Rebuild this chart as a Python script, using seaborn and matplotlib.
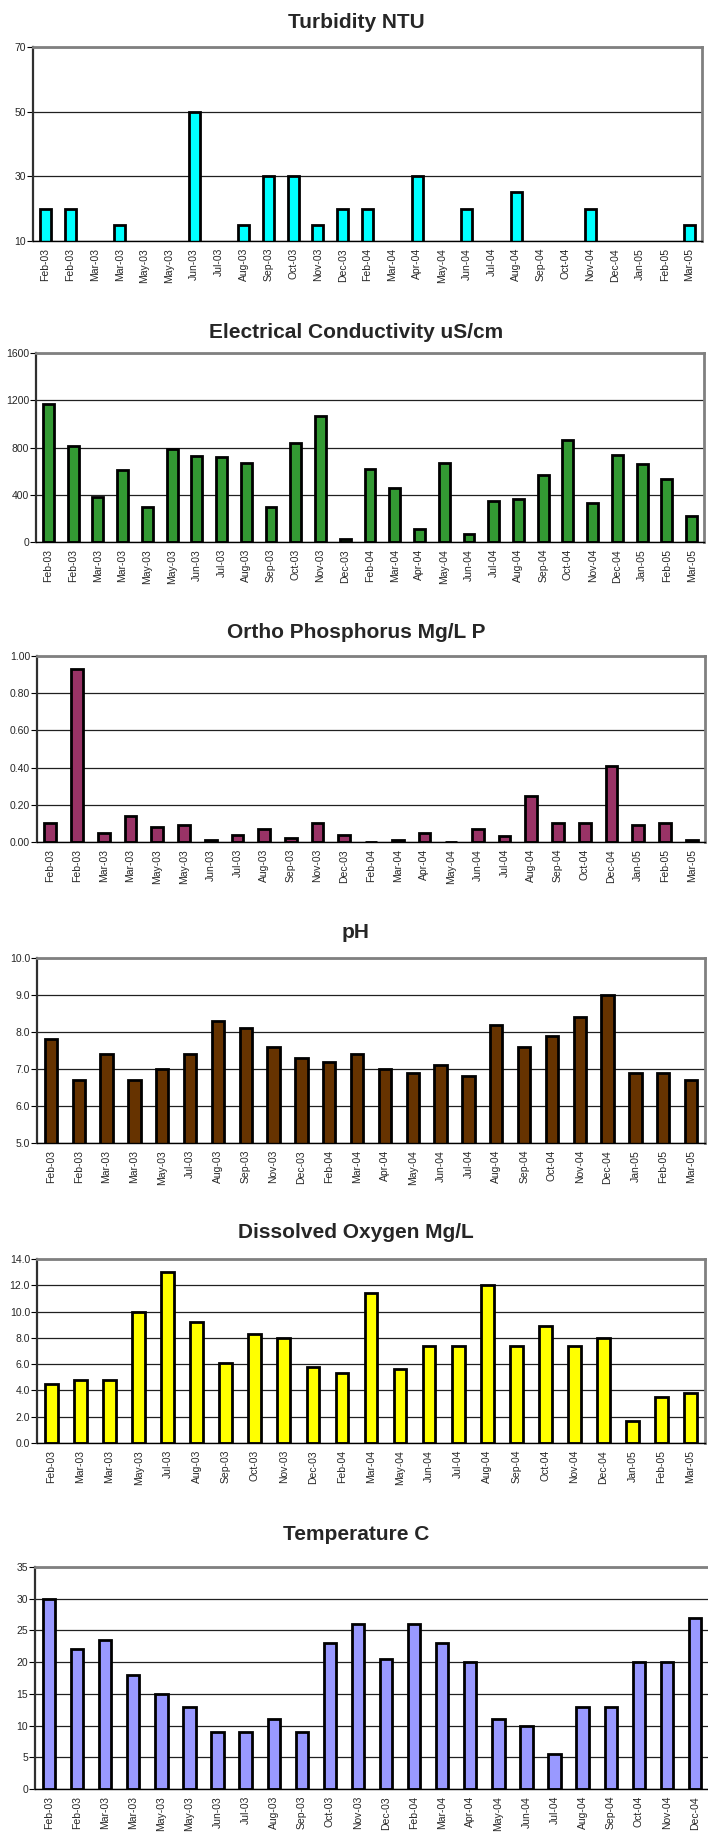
import numpy as np
import pandas as pd
import matplotlib
matplotlib.use('Agg')
import matplotlib.pyplot as plt
import seaborn as sns
from matplotlib.ticker import FixedLocator, FormatStrFormatter

# ---- data ----
turb_labels = ['Feb-03', 'Feb-03', 'Mar-03', 'Mar-03', 'May-03', 'May-03', 'Jun-03', 'Jul-03',
               'Aug-03', 'Sep-03', 'Oct-03', 'Nov-03', 'Dec-03', 'Feb-04', 'Mar-04', 'Apr-04',
               'May-04', 'Jun-04', 'Jul-04', 'Aug-04', 'Sep-04', 'Oct-04', 'Nov-04', 'Dec-04',
               'Jan-05', 'Feb-05', 'Mar-05']
turb_values = [20, 20, np.nan, 15, np.nan, np.nan, 50, np.nan, 15, 30, 30, 15, 20, 20, np.nan, 30,
               np.nan, 20, np.nan, 25, np.nan, np.nan, 20, np.nan, np.nan, np.nan, 15]

ec_labels = ['Feb-03', 'Feb-03', 'Mar-03', 'Mar-03', 'May-03', 'May-03', 'Jun-03', 'Jul-03',
             'Aug-03', 'Sep-03', 'Oct-03', 'Nov-03', 'Dec-03', 'Feb-04', 'Mar-04', 'Apr-04',
             'May-04', 'Jun-04', 'Jul-04', 'Aug-04', 'Sep-04', 'Oct-04', 'Nov-04', 'Dec-04',
             'Jan-05', 'Feb-05', 'Mar-05']
ec_values = [1170, 810, 385, 610, 300, 790, 730, 720, 670, 300, 840, 1070, 25, 615, 460, 110,
             670, 70, 350, 360, 570, 865, 330, 740, 660, 530, 220]

op_labels = ['Feb-03', 'Feb-03', 'Mar-03', 'Mar-03', 'May-03', 'May-03', 'Jun-03', 'Jul-03',
             'Aug-03', 'Sep-03', 'Nov-03', 'Dec-03', 'Feb-04', 'Mar-04', 'Apr-04', 'May-04',
             'Jun-04', 'Jul-04', 'Aug-04', 'Sep-04', 'Oct-04', 'Dec-04', 'Jan-05', 'Feb-05', 'Mar-05']
op_values = [0.10, 0.93, 0.05, 0.14, 0.08, 0.09, 0.01, 0.04, 0.07, 0.02, 0.10, 0.04, 0.0, 0.01,
             0.05, 0.0, 0.07, 0.03, 0.25, 0.10, 0.10, 0.41, 0.09, 0.10, 0.01]

ph_labels = ['Feb-03', 'Feb-03', 'Mar-03', 'Mar-03', 'May-03', 'Jul-03', 'Aug-03', 'Sep-03',
             'Nov-03', 'Dec-03', 'Feb-04', 'Mar-04', 'Apr-04', 'May-04', 'Jun-04', 'Jul-04',
             'Aug-04', 'Sep-04', 'Oct-04', 'Nov-04', 'Dec-04', 'Jan-05', 'Feb-05', 'Mar-05']
ph_values = [7.8, 6.7, 7.4, 6.7, 7.0, 7.4, 8.3, 8.1, 7.6, 7.3, 7.2, 7.4, 7.0, 6.9, 7.1, 6.8,
             8.2, 7.6, 7.9, 8.4, 9.0, 6.9, 6.9, 6.7]

do_labels = ['Feb-03', 'Mar-03', 'Mar-03', 'May-03', 'Jul-03', 'Aug-03', 'Sep-03', 'Oct-03',
             'Nov-03', 'Dec-03', 'Feb-04', 'Mar-04', 'May-04', 'Jun-04', 'Jul-04', 'Aug-04',
             'Sep-04', 'Oct-04', 'Nov-04', 'Dec-04', 'Jan-05', 'Feb-05', 'Mar-05']
do_values = [4.5, 4.8, 4.8, 10.0, 13.0, 9.2, 6.1, 8.3, 8.0, 5.8, 5.3, 11.4, 5.6, 7.4, 7.4, 12.0,
             7.4, 8.9, 7.4, 8.0, 1.7, 3.5, 3.8]

temp_labels = ['Feb-03', 'Feb-03', 'Mar-03', 'Mar-03', 'May-03', 'May-03', 'Jun-03', 'Jul-03',
               'Aug-03', 'Sep-03', 'Oct-03', 'Nov-03', 'Dec-03', 'Feb-04', 'Mar-04', 'Apr-04',
               'May-04', 'Jun-04', 'Jul-04', 'Aug-04', 'Sep-04', 'Oct-04', 'Nov-04', 'Dec-04']
temp_values = [30, 22, 23.5, 18, 15, 13, 9, 9, 11, 9, 23, 26, 20.5, 26, 23, 20, 11, 10, 5.5,
               13, 13, 20, 20, 27]

sns.set_style('white')
plt.rcParams['font.family'] = ['Liberation Sans', 'DejaVu Sans']

W, H = 708, 1832
fig = plt.figure(figsize=(W / 100, H / 100), dpi=100)

# (title, labels, values, color, yticks, fmt, box px: left, right, top, bottom, title y)
panels = [
    ('Turbidity NTU', turb_labels, turb_values, '#00FFFF', [10, 30, 50, 70], '%d',
     (33, 702, 47, 241), 23),
    ('Electrical Conductivity uS/cm', ec_labels, ec_values, '#339933', [0, 400, 800, 1200, 1600], '%d',
     (36, 704, 353, 542), 332),
    ('Ortho Phosphorus Mg/L P', op_labels, op_values, '#993366', [0, 0.2, 0.4, 0.6, 0.8, 1.0], '%.2f',
     (37, 705, 656, 842), 632),
    ('pH', ph_labels, ph_values, '#663300', [5, 6, 7, 8, 9, 10], '%.1f',
     (37, 705, 958, 1143), 933),
    ('Dissolved Oxygen Mg/L', do_labels, do_values, '#FFFF00', [0, 2, 4, 6, 8, 10, 12, 14], '%.1f',
     (37, 705, 1259, 1443), 1233),
    ('Temperature C', temp_labels, temp_values, '#9999FF', [0, 5, 10, 15, 20, 25, 30, 35], '%d',
     (35, 709, 1567, 1789), 1535),
]

for title, labels, values, color, yticks, fmt, box, ty in panels:
    l, r, t, b = box
    ax = fig.add_axes([l / W, 1 - b / H, (r - l) / W, (b - t) / H])
    n = len(labels)
    df = pd.DataFrame({'pos': list(range(n)), 'value': values})
    sns.barplot(data=df, x='pos', y='value', order=list(range(n)), color=color,
                width=0.44, edgecolor='black', linewidth=2, saturation=1, ax=ax)
    ax.set_xlim(-0.5, n - 0.5)
    ax.set_ylim(yticks[0], yticks[-1])
    ax.set_xlabel('')
    ax.set_ylabel('')

    # gridlines at major y ticks
    ax.set_yticks(yticks)
    ax.yaxis.set_major_formatter(FormatStrFormatter(fmt))
    ax.grid(axis='y', color='#202020', linewidth=0.9)
    ax.set_axisbelow(True)

    ax.set_xticks(range(n))
    ax.set_xticklabels(labels, rotation=90)
    ax.xaxis.set_minor_locator(FixedLocator(np.arange(-0.5, n, 1.0)))
    ax.tick_params(axis='x', which='major', length=0, pad=5, labelsize=7.5)
    ax.tick_params(axis='x', which='minor', length=4, width=0.8, color='black', direction='out')
    ax.tick_params(axis='y', which='major', length=4, width=0.8, color='black', direction='out',
                   labelsize=7.5, pad=1, left=True)

    for side in ['top', 'right']:
        ax.spines[side].set_color('#808080')
        ax.spines[side].set_linewidth(2)
    ax.spines['left'].set_color('#303030')
    ax.spines['left'].set_linewidth(1.6)
    ax.spines['bottom'].set_color('black')
    ax.spines['bottom'].set_linewidth(1)

    fig.text(356 / W, 1 - ty / H, title, ha='center', va='center',
             fontsize=15, fontweight='bold')

fig.savefig('out.png', dpi=100)
